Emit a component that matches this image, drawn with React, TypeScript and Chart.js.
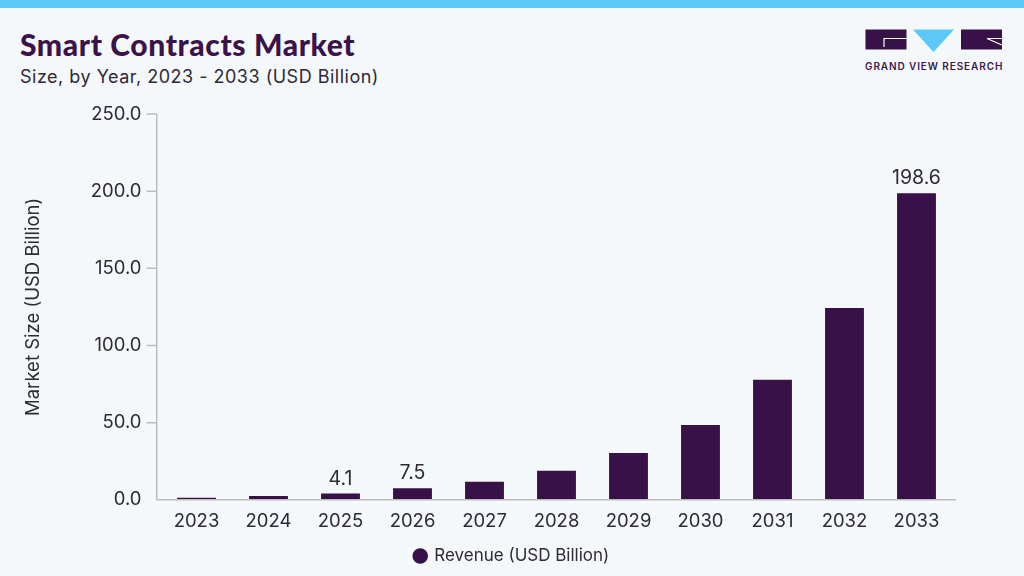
import React, { useEffect, useRef } from "react";
import { Chart, registerables } from "chart.js";

Chart.register(...registerables);

const years = ["2023", "2024", "2025", "2026", "2027", "2028", "2029", "2030", "2031", "2032", "2033"];
const revenue = [1.3, 2.4, 4.1, 7.5, 11.7, 18.8, 30.3, 48.5, 77.8, 124.3, 198.6];
const barLabels = ["", "", "4.1", "7.5", "", "", "", "", "", "", "198.6"];
const yTicksMin = 0;
const yTicksMax = 250;
const yTicksStep = 50;

const FONT = "Inter, 'Noto Sans', sans-serif";
const TEXT = "#2f2a36";
const PURPLE = "#371147";
const AXIS = "#bcbcbc";

const barLabelPlugin = {
  id: "barLabels",
  afterDatasetsDraw(chart: any) {
    const ctx = chart.ctx;
    const meta = chart.getDatasetMeta(0);
    ctx.save();
    ctx.font = `400 19.5px ${FONT}`;
    ctx.fillStyle = TEXT;
    ctx.textAlign = "center";
    ctx.textBaseline = "bottom";
    meta.data.forEach((bar: any, i: number) => {
      const t = barLabels[i];
      if (t) ctx.fillText(t, bar.x, bar.y - 5);
    });
    ctx.restore();
  },
};

// axis lines slightly extended beyond the category band (as in the reference)
const axisPlugin = {
  id: "axisLines",
  afterDraw(chart: any) {
    const ctx = chart.ctx;
    const y = chart.scales.y;
    const x = chart.scales.x;
    const ax = x.left - 3.8;
    const bottom = y.getPixelForValue(yTicksMin);
    ctx.save();
    ctx.strokeStyle = AXIS;
    ctx.lineWidth = 1.5;
    ctx.beginPath();
    ctx.moveTo(ax, y.getPixelForValue(yTicksMax));
    ctx.lineTo(ax, bottom);
    ctx.lineTo(x.right + 3.5, bottom);
    y.ticks.forEach((t: any) => {
      if (t.value === yTicksMin) return;
      const py = y.getPixelForValue(t.value);
      ctx.moveTo(ax - 10, py);
      ctx.lineTo(ax, py);
    });
    ctx.stroke();
    ctx.restore();
  },
};

function ChartCanvas() {
  const ref = useRef<HTMLCanvasElement | null>(null);
  useEffect(() => {
    if (!ref.current) return;
    const chart = new Chart(ref.current, {
      type: "bar",
      data: {
        labels: years,
        datasets: [
          {
            label: "Revenue (USD Billion)",
            data: revenue,
            backgroundColor: PURPLE,
            borderWidth: 0,
            barPercentage: 0.54,
            categoryPercentage: 1,
          },
        ],
      },
      options: {
        animation: false,
        responsive: true,
        maintainAspectRatio: false,
        layout: { padding: { top: 19, right: 0, left: 0, bottom: 1.5 } },
        plugins: {
          tooltip: { enabled: false },
          legend: {
            display: true,
            position: "bottom",
            labels: {
              usePointStyle: true,
              pointStyle: "circle",
              boxWidth: 11,
              boxHeight: 11,
              color: TEXT,
              font: { family: FONT, size: 17 },
              padding: 3.5,
            },
          },
        },
        scales: {
          x: {
            grid: { display: false, drawTicks: false },
            border: { display: false },
            ticks: { color: TEXT, font: { family: FONT, size: 18.5 }, padding: 11 },
          },
          y: {
            min: yTicksMin,
            max: yTicksMax,
            ticks: {
              stepSize: yTicksStep,
              color: TEXT,
              font: { family: FONT, size: 18.5 },
              padding: 5,
              callback: (v: any) => Number(v).toFixed(1),
            },
            grid: { drawOnChartArea: false, drawTicks: true, tickLength: 14, color: "transparent" },
            border: { display: false },
            title: {
              display: true,
              text: "Market Size (USD Billion)",
              color: TEXT,
              font: { family: FONT, size: 18.5 },
              padding: { top: 22, bottom: 0 },
            },
            afterFit: (scale: any) => {
              scale.width = 160.5;
            },
          },
          spacer: {
            type: "linear",
            position: "right",
            display: true,
            grid: { display: false, drawTicks: false },
            border: { display: false },
            ticks: { display: false },
            afterFit: (scale: any) => {
              scale.width = 71.5;
            },
          },
        },
      },
      plugins: [barLabelPlugin, axisPlugin],
    });
    return () => chart.destroy();
  }, []);
  return <canvas ref={ref} />;
}

function Logo() {
  return (
    <div style={{ position: "absolute", left: 864, top: 29, width: 140 }}>
      <svg width={140} height={24} viewBox="0 0 140 24" style={{ display: "block" }}>
        <rect x={1.5} y={0.5} width={41} height={20} fill={PURPLE} />
        <polyline points="42.5,9.5 20,9.5 20,18" fill="none" stroke="#ffffff" strokeWidth={1.2} />
        <polygon points="49,0.5 90,0.5 69.5,23" fill="#5bc8f5" />
        <rect x={97} y={0.5} width={41} height={20} fill={PURPLE} />
        <polyline points="138,9.5 123,9.5 138,16" fill="none" stroke="#ffffff" strokeWidth={1.2} />
      </svg>
      <div
        style={{
          marginTop: 7,
          fontFamily: FONT,
          fontSize: 10,
          fontWeight: 600,
          letterSpacing: 0.9,
          color: "#3b1a4c",
          whiteSpace: "nowrap",
          marginLeft: 1,
        }}
      >
        GRAND VIEW RESEARCH
      </div>
    </div>
  );
}

export default function App() {
  return (
    <div
      style={{
        position: "fixed",
        left: 0,
        top: 0,
        width: 1024,
        height: 576,
        background: "#f4f8fb",
        overflow: "hidden",
        fontFamily: FONT,
      }}
    >
      <div style={{ position: "absolute", left: 0, top: 0, width: 1024, height: 8, background: "#5bc8f5" }} />
      <div
        style={{
          position: "absolute",
          left: 20,
          top: 26,
          fontFamily: "Lato, Inter, sans-serif",
          fontWeight: 900,
          fontSize: 30,
          color: "#3b1249",
          letterSpacing: 0.6,
          whiteSpace: "nowrap",
          lineHeight: "36px",
        }}
      >
        Smart Contracts Market
      </div>
      <div
        style={{
          position: "absolute",
          left: 20,
          top: 65,
          fontSize: 18,
          color: TEXT,
          whiteSpace: "nowrap",
          lineHeight: "24px",
          letterSpacing: 0.5,
        }}
      >
        Size, by Year, 2023 - 2033 (USD Billion)
      </div>
      <Logo />
      <div style={{ position: "absolute", left: 0, top: 95, width: 1024, height: 481 }}>
        <ChartCanvas />
      </div>
    </div>
  );
}
